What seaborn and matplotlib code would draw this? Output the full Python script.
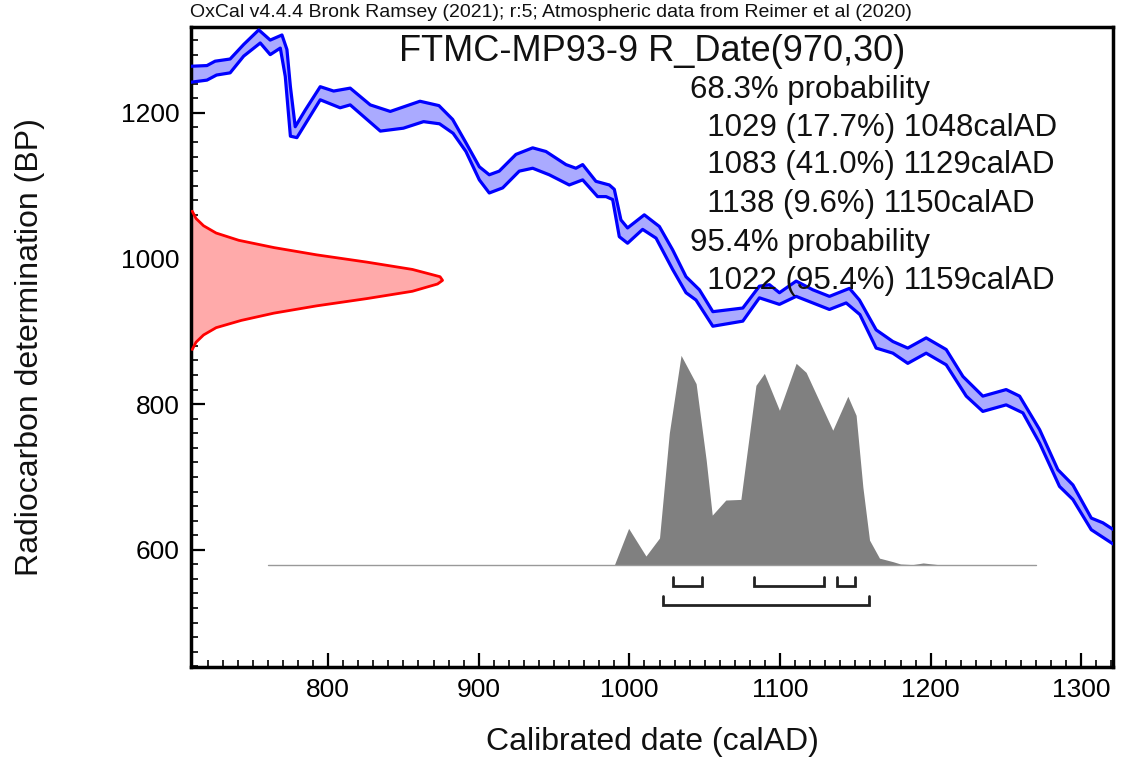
import numpy as np
import matplotlib
matplotlib.use("Agg")
import matplotlib.pyplot as plt
from matplotlib.ticker import MultipleLocator
import seaborn as sns

# calibration curve band (IntCal20), upper and lower edges
up_year = [708.5, 719.6, 725, 735, 744, 754, 761.6, 769.4, 772.7, 775, 778.2, 784.9, 794.8, 803.7,
           814.7, 828, 841.3, 861, 873.6, 882.7, 891.5, 900.4, 907, 913.6, 924.7, 935.8, 944.6,
           957.9, 964.5, 969, 977.8, 986.7, 990, 994.4, 998.8, 1009.9, 1019.9, 1028.7, 1037.6,
           1046.5, 1055.4, 1075.3, 1086.3, 1093, 1099.6, 1110.7, 1121.8, 1132.8, 1146.1, 1152.7,
           1163.8, 1174.9, 1184.8, 1197, 1210.3, 1221.4, 1234.6, 1250.1, 1259, 1272.3, 1284.4,
           1294.4, 1306.6, 1314.3, 1321]
up_bp = [1264, 1265, 1271, 1274, 1294, 1314, 1300, 1307, 1287, 1236, 1181, 1204, 1236, 1230,
         1234, 1211, 1202, 1216, 1210, 1191, 1159, 1126, 1115, 1120, 1143, 1152, 1147,
         1129, 1124, 1129, 1106, 1101, 1095, 1053, 1042, 1060, 1044, 1012, 975,
         957, 927, 932, 962, 964, 953, 969, 957, 948, 959, 943,
         902, 886, 877, 891, 875, 838, 811, 820, 811, 765, 710,
         689, 643.5, 637, 628]
lo_year = [708.5, 719.6, 726, 735, 744, 755, 761.6, 768.3, 771.6, 775, 779.3, 794.8, 808, 814.7,
           834.7, 850, 863.4, 874, 883, 891.5, 900.4, 907, 915.9, 926.9, 935.8, 946.8, 960.1,
           969, 978.9, 984.5, 988.9, 993.3, 998.8, 1008.8, 1017.7, 1028.7, 1037.6, 1044.2,
           1055.4, 1075.3, 1086.3, 1099.6, 1110.7, 1132.8, 1143.9, 1153, 1163.8, 1174.9, 1184.8,
           1197, 1210.3, 1223.6, 1234.6, 1250.1, 1261.2, 1272.3, 1285.5, 1294.4, 1306.6, 1321]
lo_bp = [1242, 1245, 1252, 1255, 1278, 1296, 1280, 1289, 1250, 1168, 1166, 1218, 1207, 1211,
         1175, 1179, 1188, 1185, 1172, 1147, 1108, 1090, 1097, 1120, 1124, 1115, 1101,
         1108, 1085, 1085, 1081, 1030, 1021, 1040, 1028, 985, 953, 943,
         907, 914, 946, 937, 948, 930, 939, 923, 877, 870, 856,
         870, 854, 811, 790, 799, 788, 746.5, 687, 669, 627.5, 608]

# radiocarbon measurement R_Date(970,30), relative density
c14_bp = [1065, 1055, 1045, 1035, 1025, 1015, 1005, 995, 985, 975, 970, 965, 955, 945, 935,
          925, 915, 905, 895, 885, 875]
c14_dens = [0.005, 0.02, 0.05, 0.1, 0.19, 0.33, 0.5, 0.7, 0.88, 0.99, 1.0, 0.98, 0.88, 0.7, 0.5,
            0.33, 0.2, 0.1, 0.05, 0.02, 0.005]

# calibrated posterior, relative probability
post_year = [760, 985, 990, 999.5, 1011, 1020, 1026.5, 1034.3, 1044.3, 1051, 1055, 1064, 1074, 1084,
             1089.6, 1099.6, 1110.7, 1117.3, 1135, 1145, 1150.5, 1155, 1159.4, 1166, 1175, 1180,
             1188, 1195, 1205, 1215, 1270]
post_prob = [0, 0, 0, 0.175, 0.043, 0.129, 0.629, 1.0, 0.865, 0.5, 0.238, 0.31, 0.313, 0.857,
             0.914, 0.738, 0.962, 0.919, 0.643, 0.805, 0.714, 0.371, 0.119, 0.033, 0.016, 0.005,
             0.002, 0.01, 0.002, 0, 0]

range68 = [(1029, 1048), (1083, 1129), (1138, 1150)]
range95 = [(1022, 1159)]

title = "FTMC-MP93-9 R_Date(970,30)"
info_lines = ["68.3% probability",
              "  1029 (17.7%) 1048calAD",
              "  1083 (41.0%) 1129calAD",
              "  1138 (9.6%) 1150calAD",
              "95.4% probability",
              "  1022 (95.4%) 1159calAD"]
header = "OxCal v4.4.4 Bronk Ramsey (2021); r:5; Atmospheric data from Reimer et al (2020)"

sns.set_theme(style="white")
plt.rcParams['font.family'] = ['Liberation Sans', 'DejaVu Sans']

fig = plt.figure(figsize=(11.24, 7.62), dpi=100)
ax = fig.add_axes([0.1699, 0.1247, 0.8203, 0.8399])
xmin, xmax = 709, 1321
ymin, ymax = 439, 1318

# calibration band
ax.fill(up_year + lo_year[::-1], up_bp + lo_bp[::-1], color='#aaaaff', lw=0, zorder=2)
sns.lineplot(x=up_year, y=up_bp, color='#0000ff', lw=2.3, ax=ax, zorder=3,
             solid_joinstyle='round', solid_capstyle='round')
sns.lineplot(x=lo_year, y=lo_bp, color='#0000ff', lw=2.3, ax=ax, zorder=3,
             solid_joinstyle='round', solid_capstyle='round')

# measured date on the y axis
red_x = xmin + np.array(c14_dens) * 167
ax.fill_betweenx(c14_bp, xmin, red_x, color='#ffaaaa', lw=0, zorder=2)
ax.plot(red_x, c14_bp, color='#ff0000', lw=2, zorder=3, solid_joinstyle='round')

# posterior
base = 579
post_y = base + np.array(post_prob) * 288
ax.fill_between(post_year, base, post_y, color='#808080', lw=0, zorder=2)
ax.plot([post_year[0], post_year[-1]], [base, base], color='#999999', lw=1, zorder=2)

# ranges
tick_h = 13
for lev, ranges in [(550, range68), (524, range95)]:
    for a, b in ranges:
        ax.plot([a, a, b, b], [lev + tick_h, lev, lev, lev + tick_h], color='#222222', lw=2,
                solid_joinstyle='miter', zorder=3)

ax.set_xlim(xmin, xmax)
ax.set_ylim(ymin, ymax)
ax.xaxis.set_major_locator(MultipleLocator(100))
ax.xaxis.set_minor_locator(MultipleLocator(10))
ax.yaxis.set_major_locator(MultipleLocator(200))
ax.yaxis.set_minor_locator(MultipleLocator(20))
ax.tick_params(which='major', direction='in', length=10, width=1.6, labelsize=19, pad=8,
               colors='black', bottom=True, left=True, top=False, right=False)
ax.tick_params(which='minor', direction='in', length=5, width=1.4, bottom=True, left=True,
               top=False, right=False)
for s in ax.spines.values():
    s.set_linewidth(2.5)
    s.set_color('black')

ax.set_xlabel("Calibrated date (calAD)", fontsize=23, color='#111111', va='center')
ax.set_ylabel("Radiocarbon determination (BP)", fontsize=23, color='#111111', va='center')
ax.xaxis.set_label_coords(0.5, -0.117)
ax.yaxis.set_label_coords(-0.175, 0.5)

ax.text(0.5, 0.961, title, transform=ax.transAxes, ha='center', va='center', fontsize=26,
        color='#111111', zorder=5)
line_y = [0.9016, 0.842, 0.784, 0.723, 0.662, 0.603]
for s, yy in zip(info_lines, line_y):
    ax.text(0.541, yy, s, transform=ax.transAxes, ha='left', va='center', fontsize=22.5,
            color='#111111', zorder=5)

fig.text(0.169, 0.984, header, ha='left', va='center', fontsize=14, color='#111111')

fig.savefig("out.png", dpi=100)
